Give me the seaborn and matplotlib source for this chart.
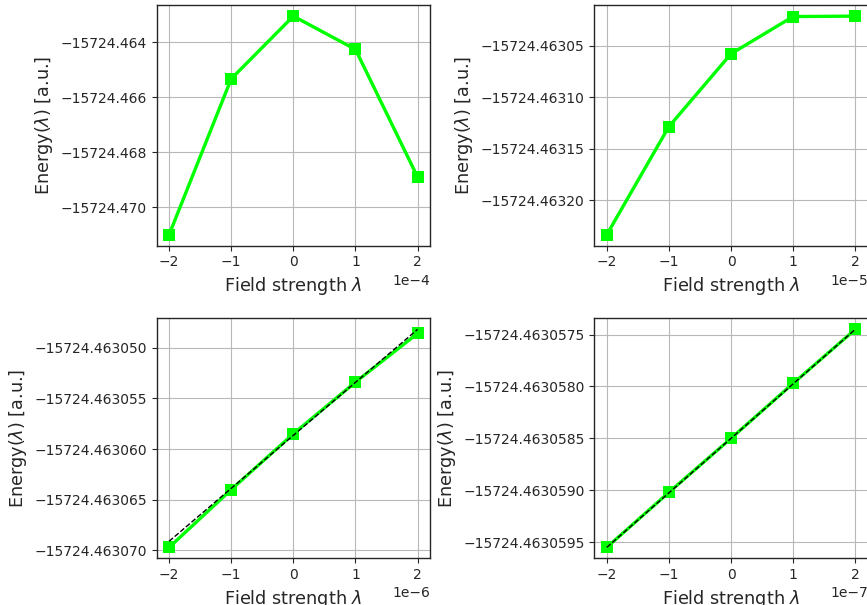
import matplotlib
matplotlib.use("Agg")
import matplotlib.pyplot as plt
import seaborn as sns
import pandas as pd

# Field strengths (in units of the offset shown on each x axis)
lam_units = [-2, -1, 0, 1, 2]
scales = [1e-4, 1e-5, 1e-6, 1e-7]

# Energies [a.u.]
energy_1e4 = [-15724.471007, -15724.465335, -15724.463055, -15724.464266, -15724.468909]
energy_1e5 = [-15724.4632332, -15724.4631285, -15724.4630580, -15724.4630219, -15724.4630215]
energy_1e6 = [-15724.4630697, -15724.4630640, -15724.4630585, -15724.4630534, -15724.4630486]
energy_1e7 = [-15724.46305955, -15724.46305902, -15724.4630585, -15724.46305797, -15724.46305745]

# Linear (dashed) reference lines, only in the bottom panels
fit_units = [-2, 2]
fit_1e6 = [-15724.4630691, -15724.4630482]
fit_1e7 = [-15724.46305955, -15724.46305745]

energies = [energy_1e4, energy_1e5, energy_1e6, energy_1e7]
fits = [None, None, fit_1e6, fit_1e7]

sns.set_theme(style="ticks", rc={
    "axes.grid": True,
    "grid.color": "#b8b8b8",
    "grid.linewidth": 0.8,
    "axes.edgecolor": "#262626",
    "axes.linewidth": 1.0,
    "xtick.labelsize": 10,
    "ytick.labelsize": 10,
    "axes.labelsize": 12.7,
    "xtick.color": "#262626",
    "ytick.color": "#262626",
    "axes.labelcolor": "#262626",
})
plt.rcParams["font.family"] = ["DejaVu Sans"]

fig = plt.figure(figsize=(8.67, 6.05), dpi=100)
W, H = 0.3153, 0.3975
positions = [
    (0.1807, 0.5939, W, H),
    (0.6855, 0.5939, W, H),
    (0.1807, 0.0772, W, 0.3964),
    (0.6855, 0.0772, W, 0.3964),
]

for pos, sc, en, fit in zip(positions, scales, energies, fits):
    ax = fig.add_axes(pos)
    df = pd.DataFrame({"lam": [u * sc for u in lam_units], "E": en})
    sns.lineplot(data=df, x="lam", y="E", ax=ax, color="#00ff00", marker="s",
                 markersize=8, markeredgewidth=0, linewidth=2.4)
    if fit is not None:
        dff = pd.DataFrame({"lam": [u * sc for u in fit_units], "E": fit})
        sns.lineplot(data=dff, x="lam", y="E", ax=ax, color="black",
                     linestyle="--", linewidth=1.0)
    ax.set_xlabel(r"Field strength $\lambda$")
    ax.set_ylabel(r"Energy($\lambda$) [a.u.]")
    ax.ticklabel_format(axis="x", style="sci", scilimits=(0, 0))
    ax.ticklabel_format(axis="y", style="plain", useOffset=False)
    ax.set_xticks([u * sc for u in lam_units])
    ax.tick_params(direction="out", length=3.5, width=0.8)
    for s in ax.spines.values():
        s.set_visible(True)

fig.savefig("out.png", dpi=100)
